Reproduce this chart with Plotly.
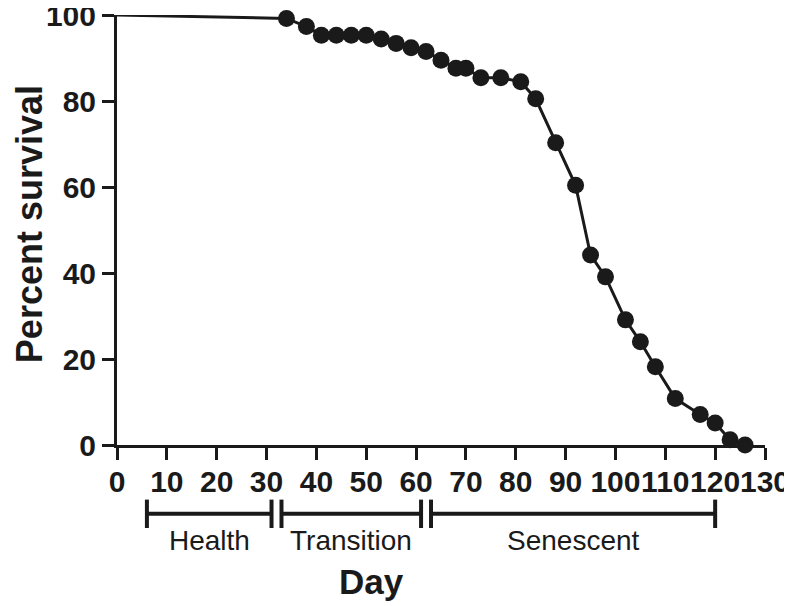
import plotly.graph_objects as go

# survival curve
days = [0, 34, 38, 41, 44, 47, 50, 53, 56, 59, 62, 65, 68, 70, 73, 77, 81, 84,
        88, 92, 95, 98, 102, 105, 108, 112, 117, 120, 123, 126]
survival = [100, 99.2, 97.3, 95.3, 95.3, 95.3, 95.3, 94.4, 93.4, 92.4, 91.5, 89.5,
            87.6, 87.6, 85.4, 85.4, 84.5, 80.5, 70.3, 60.4, 44.2, 39.1, 29.1, 24.0,
            18.2, 10.8, 7.1, 5.1, 1.2, 0]

# life stages under the x axis
stage_names = ["Health", "Transition", "Senescent"]
stage_start = [6, 33, 63]
stage_end = [31, 61, 120]

INK = "#1a1a1a"
FONT = "Arial, Liberation Sans, sans-serif"

fig = go.Figure()

# line from day 0, markers only on the measured points
fig.add_trace(
    go.Scatter(
        x=days,
        y=survival,
        mode="lines",
        line=dict(color=INK, width=3),
        cliponaxis=False,
        showlegend=False,
    )
)
fig.add_trace(
    go.Scatter(
        x=days[1:],
        y=survival[1:],
        mode="markers",
        marker=dict(color=INK, size=17),
        cliponaxis=False,
        showlegend=False,
    )
)

shapes = []
annotations = []
bar_y, cap_lo, cap_hi, label_y = -0.160, -0.193, -0.127, -0.221
for name, x0, x1 in zip(stage_names, stage_start, stage_end):
    shapes.append(dict(type="line", xref="x", yref="paper", x0=x0, x1=x1,
                       y0=bar_y, y1=bar_y, line=dict(color=INK, width=4)))
    for xe in (x0, x1):
        shapes.append(dict(type="line", xref="x", yref="paper", x0=xe, x1=xe,
                           y0=cap_lo, y1=cap_hi, line=dict(color=INK, width=4)))
    annotations.append(dict(text=name, xref="x", yref="paper", x=(x0 + x1) / 2,
                            y=label_y, xanchor="center", yanchor="middle",
                            showarrow=False,
                            font=dict(family=FONT, size=28, color=INK)))

# GraphPad-style y axis poking below zero
shapes.append(dict(type="line", xref="x", yref="paper", x0=0, x1=0, y0=0, y1=-0.016,
                   line=dict(color=INK, width=3)))

annotations.append(dict(text="<b>Day</b>", xref="paper", yref="paper", x=0.3935,
                        y=-0.3186, xanchor="center", yanchor="middle",
                        showarrow=False,
                        font=dict(family=FONT, size=35, color=INK)))
annotations.append(dict(text="<b>Percent survival</b>", xref="paper", yref="paper",
                        x=-0.134, y=0.514, xanchor="center", yanchor="middle",
                        textangle=-90, showarrow=False,
                        font=dict(family=FONT, size=36, color=INK)))

fig.update_layout(
    width=792,
    height=606,
    plot_bgcolor="white",
    paper_bgcolor="white",
    margin=dict(l=109, r=35, t=7, b=169),
    shapes=shapes,
    annotations=annotations,
    font=dict(family=FONT, color=INK),
)

axis_style = dict(
    showgrid=False,
    zeroline=False,
    showline=True,
    linecolor=INK,
    linewidth=3,
    ticks="outside",
    ticklen=12,
    tickwidth=3,
    tickcolor=INK,
    tickangle=0,
    automargin=False,
    ticklabeloverflow="allow",
    tickfont=dict(family=FONT, size=30, color=INK, weight="bold"),
)
fig.update_xaxes(range=[0, 130], tickvals=list(range(0, 131, 10)),
                 ticklabelstandoff=-4, **axis_style)
fig.update_yaxes(range=[0, 100], tickvals=list(range(0, 101, 20)), **axis_style)

fig.write_html("out.html")
